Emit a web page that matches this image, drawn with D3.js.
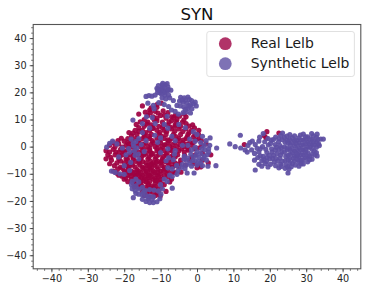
<!DOCTYPE html>
<html>
<head>
<meta charset="utf-8">
<script src="https://d3js.org/d3.v7.min.js"></script>
<style>
html, body { margin: 0; padding: 0; background: #fff; }
text { font-family: "DejaVu Sans", sans-serif; }
</style>
</head>
<body>
<div id="chart"></div>
<script>
var chartTitle = "SYN"
var seriesNames = ["Real Lelb", "Synthetic Lelb"]
var seriesColors = ["#9e0142", "#5e4fa2"]
var majorTicks = [-40, -30, -20, -10, 0, 10, 20, 30, 40]

// [x, y]
var realPoints = [
[-15,15],[-13,13.5],[-11.5,13],[-13.5,11.5],[-12,11],[-10,11.5],[-8.5,10.5],[-14.5,10],[-11,9.5],[-9.5,9],[-7,9.5],[-5.5,10],[-4,9],[-3,8.5],[-6,8],[-8,8],[-10.5,7.5],[-12.5,8],[-14.5,7.5],[-16,7],[-17,6],
[-15,6],[-13,6],[-11,6],[-9,6],[-7,6.5],[-5,6.5],[-3,6.5],[-1.5,6],[-2.5,4.5],[-4.5,4.5],[-6.5,4.5],[-8.5,4.5],[-10.5,4.5],[-12.5,4.5],[-14.5,4.5],[-16.5,4.5],[-18,4],[-19,3],[-17,3],[-15,3],[-13,3],[-11,3],[-9,3],[-7,3],[-5,3],[-3,3],[-1,3.5],[0.5,3],
[-20,2],[-18,2],[-16,1.5],[-14,1.5],[-12,1.5],[-10,1.5],[-8,1.5],[-6,1.5],[-4,1.5],[-2,1.5],[-23,1.5],[-21.5,1],[-24,0.5],[-19.5,0.5],[-17.5,0.5],[-15.5,0],[-13.5,0],[-11.5,0],[-9.5,0],[-7.5,0],[-5.5,0],[-3.5,0],[-1.5,0.5],
[-25,-1.5],[-23,-1],[-21,-1],[-19,-1],[-17,-1],[-15,-1.5],[-13,-1.5],[-11,-1.5],[-9,-1.5],[-7,-1.5],[-5,-1.5],[-24.5,-3],[-22.5,-3],[-20.5,-3],[-18.5,-3],[-16.5,-3],[-14.5,-3],[-12.5,-3],[-10.5,-3],[-8.5,-3],[-6.5,-3],
[-25,-4.5],[-23.5,-5],[-21.5,-4.5],[-19.5,-4.5],[-17.5,-4.5],[-15.5,-4.5],[-13.5,-4.5],[-11.5,-4.5],[-9.5,-4.5],[-7.5,-4.5],[-22,-6],[-20,-6],[-18,-6],[-16,-6],[-14,-6],[-12,-6],[-10,-6],[-8,-6],[-6,-6],
[-21,-7.5],[-19,-7.5],[-17,-7.5],[-15,-7.5],[-13,-7.5],[-11,-7.5],[-9,-7.5],[-7,-7.5],[-5,-7.5],[-23,-9],[-20,-9],[-18,-9],[-16,-9],[-14,-9],[-12,-9],[-10,-9],[-8,-9],[-21.5,-10.5],[-19,-10.5],[-17,-10.5],[-15,-10.5],[-13,-10.5],[-11,-10.5],[-9,-10.5],
[-20,-12],[-18,-12],[-16,-12],[-14,-12],[-12,-12],[-10,-12],[-17.5,-13.5],[-15.5,-13.5],[-13.5,-13.5],[-11.5,-13.5],[-16,-15],[-14,-15],[-12,-15],[-10,-15],[-15,-16.5],[-13,-16.5],[-11,-17],[-12,-18.5],[-14.5,-18],
[-14.5,-1],[-12.5,-6.5],[-16.5,-8.5],[-14.5,-11.5],[-11.5,-11.5],[-13,-8],[-15,-2.5],[-10,-1],[-8,2.5],[-12,7],[-9.5,7],[-6,7.5],[-13.5,9],[-11,10.5],[-7,11],[-4.5,7.5],[-17.5,-2],[-19,-5],[-17,-11],[-14,-13],[-12.5,-14.5],[-10.5,-13],
[-8,-11],[-6,-9.5],[-4.4,-9.4],[0.3,-7],[1,-7.5],[0,-7.8],[3.1,-6],[-2,-5],[-0.5,-3],[1.5,-2.5],[-3.5,-2],[-1.5,-4],[0.5,-0.5],[2.5,1],[-1,1.5],[-2.5,-0.8],[-6,-3.8],[-4.5,-5],[-3.2,-6.8],[-1,-6.2],[1.5,-5],[-16,12],[-8,12.5],[-11,14.5],
[-12.8,12.5],[-6,11.5],[-3,11],[-1.2,8],[0.5,6],[-3.5,12],[-9.8,16],[-11,15.5],[-7.5,-13],[-9,-14],[-8.5,-16.5],[-24,-2],[-22.5,0],[-20.5,-0.2],[-19,1.5],[-18.5,-7],[-20.5,-8],[-22,-9.8],
[18.5,4],[19.2,5.5],[22.5,5],[19,3.2],[13,0.8],[-2.4,-1.3],[3.8,-3],[-19.5,-11.5],[-7.3,7.2],[-5.2,2.2],[-12.7,-2.2],[-9.7,-5.3],[-10.7,-8.3],[-15.8,-5.3],[-13.2,3.8],[-10.2,2.4],[-15.2,1],[-17.6,-3.8],[-19.8,-1.8],[-21.4,-2.2],
// second pass over the dense middle
[-14.2,12.7],[-12.6,14.3],[-10.7,12.4],[-9.3,13.2],[-8.9,11.6],[-7.7,9.1],[-6.4,10.7],[-4.8,11.2],[-3.6,9.9],[-2.2,7.6],[-0.7,6.9],[-5.7,9.1],[-9.2,7.8],[-11.8,9.9],[-13.8,8.3],[-15.6,9.1],[-16.7,8.2],[-15.9,5.6],[-14,5.2],[-12.2,6.7],[-10.2,5.3],[-8.3,5.6],[-6.1,5.7],[-3.9,5.6],[-2.1,5.2],[-0.6,4.4],[0.4,4.6],
[-18.7,5.2],[-17.6,5],[-16.2,2.4],[-14.4,3.6],[-12.3,2.2],[-9.7,3.8],[-7.6,2.1],[-5.8,3.7],[-3.8,2.4],[-2.7,3.6],[-0.3,2.5],[1.2,2.2],[-20.8,3.1],[-21.7,2.2],[-18.7,0.9],[-16.7,0.6],[-14.7,0.7],[-12.7,0.8],[-10.7,0.8],[-8.7,0.6],[-6.7,0.8],[-4.7,0.7],[-2.9,0.9],[-0.6,-0.8],[1.3,0.3],
[-22.3,-1.9],[-20.2,-1.8],[-18.2,-0.2],[-16.2,-1.9],[-14,-2.4],[-12.1,-2.6],[-10.3,-2.1],[-8.2,-2.3],[-6.3,-0.7],[-4.2,-0.8],[-23.7,-3.9],[-21.2,-3.6],[-19.2,-3.8],[-17.3,-2.7],[-15.2,-3.7],[-13.2,-3.8],[-11.2,-3.7],[-9.2,-3.6],[-7.2,-3.7],[-5.3,-3],[-3.4,-3.2],
[-24,-6.3],[-22.7,-7],[-21,-5.3],[-18.9,-6.3],[-16.9,-5.4],[-14.9,-5.5],[-12.8,-5.3],[-10.8,-5.4],[-8.8,-5.5],[-6.8,-5.6],[-4.9,-6.3],[-21.8,-8.2],[-19.7,-7],[-17.7,-6.8],[-15.7,-6.8],[-13.7,-6.9],[-11.7,-6.8],[-9.7,-6.9],[-7.7,-6.8],[-5.8,-7],[-18.8,-8.4],[-16.8,-9.4],[-14.8,-8.3],[-12.8,-8.4],[-10.8,-9.6],[-8.8,-8.3],[-6.8,-9.6],
[-20.6,-10.9],[-18.3,-9.8],[-16.2,-9.9],[-14.1,-9.9],[-12.3,-10],[-10.1,-10.2],[-8.2,-9.9],[-19,-12.9],[-17.2,-12.4],[-15.3,-11.4],[-13.3,-11.4],[-11.4,-12.5],[-9.3,-11.8],[-16.8,-13.9],[-14.8,-12.6],[-13,-12.8],[-11,-12.4],[-9.8,-13.6],[-15.2,-14.4],[-13.3,-14.3],[-11.3,-14.6],[-14.8,-15.6],[-12.9,-15.4],[-11.2,-15.6],[-13.8,-16.9],[-12.2,-16.8],[-10.5,-16.2],[-11.4,-18],[-13.2,-18.6],[-10.1,-18.2],
[-17.2,-14.9],[-18.2,-10.8],[-7,-12],[-6.7,-7.4],[-7.3,-1],[-9,0.7],[-11,-0.7],[-13,-0.8],[-12.4,-7.6],[-14.4,-7.9],[-13.4,-10.5],[-15.5,-12.6],[-12.7,-11.2],[-10.5,-11],[-16,-10.8],[-11.6,-9.5],[-13.6,-9.4],[-13.2,-6.8],[-11.2,-5.8],[-15.4,-9.6],[-9.2,-8.8],[-17.7,-9.6],[-19.6,-9.5]
]

var synthPoints = [
// top clump
[-14,18.5],[-13.2,18.8],[-12.4,18.6],[-11.5,19],[-10.8,20],[-10.3,21],[-9.6,22.8],[-10.6,22.5],[-8.7,22.8],[-8,22],[-8.2,20.6],[-9.2,20.6],[-9.8,19.5],[-8.8,19],[-7.8,19],[-8.6,17.6],[-9.6,18],[-11,21.5],[-9.5,21.6],[-7.2,20.8],[-7.5,18],
[-6.5,17],[-5.5,15.2],[-7.8,14.8],[-7,13.5],[-6,13],[-12,15.2],[-13.5,16],[-10.5,16.2],[-11.8,14],[-9,15.5],[-10.2,19.9],[-9.1,21.9],[-8.9,20],[-10,21],[-7.9,21],[-8.2,23.2],[-9.4,23.3],[-10.8,21],
// upper right lobe
[-4.5,18.2],[-3.5,18],[-2.5,18.3],[-1.5,17],[-0.5,16.4],[-3.8,16.4],[-2.8,16],[-1.8,15.4],[-4.6,15],[-3.6,14.6],[-2.5,14],[-1.4,14],[-3,12.8],[-1.8,12.4],[-3.8,12.5],[-0.2,15],[-4.8,16.8],[-2.1,17.4],[-3.2,17.2],[-2.3,15],[-3.2,13.7],[-1,15.8],[-4.1,17.2],
// main body
[-17.6,9.8],[-15,8.5],[-11.5,8.5],[-9,8.2],[-5,8.2],[-3.2,7],[-1,5.5],[0,4.5],[1.5,3.8],[3.6,3.2],[2.5,2.2],[1,1.5],[-0.5,2],[-2,2.8],[-6,2.2],[-10,3.2],[-14,2.2],[-16,3],[-17.5,1.2],
[-13,6.8],[-8,6.8],[-15,5.2],[-16.5,-0.5],[-18.5,-2],[-20.5,-0.5],[-22,1],[-24,1.2],[-23.2,2],[-24.8,-0.2],[-21.5,-3.8],[-19.5,-3],[-17,-3.2],[-14.5,-1.8],[-10,-2.2],[-8,-0.8],[-6,-1.5],[-4,0.5],[-2.5,0.5],
[-16,-4.5],[-8.5,-5.2],[-6.5,-4.8],[-18.2,-5.8],[-20,-7],[-23.5,-9],[-22.5,-9.5],[-21.2,-10],[-20,-10.2],[-18.5,-8.8],[-16.8,-12],[-17.8,-12.8],[-18,-14],[-16.8,-14.4],[-16,-13],
[-8,-7.8],[-6.8,-8.2],[-5.2,-8.8],[-7.5,-10.5],[-9,-12],[-10,-14],[-8.2,-12.8],[-6.8,-11],[-5.5,-10.2],[-2.7,-9.7],[-0.8,-9.7],[-6.8,-15.3],[-9.9,-17.5],[-9.5,-15.6],
[-4,-6.5],[-3,-5],[-3.5,-3.5],[-1.5,-7.2],[-2,-6],[-0.5,-5.2],[-1,-3.8],[0.5,-4],[1,-2.5],[2,-3.5],[2.6,-5],[1,-6],[0,-6.8],[2.2,-1.2],[3.2,-2],[0,-1.8],[-1.5,-1.2],[3.5,0.5],[2,0.5],[5.4,-0.5],[5.2,-7],[-3.6,-4.6],[1.5,-7],[3,-7.2],[-0.5,-0.2],
[-2.6,-4.2],[-1.7,-2.8],[-0.2,-3.1],[1.7,-4.4],[0.4,-5.6],[-1.2,-5.1],[2.8,-3],[3.2,-0.8],[1.3,-0.7],[-2.9,-6.8],[-4.3,-7.6],[-3.3,-8.1],[-5.6,-6.9],
[-18.1,2.8],[-17.2,-1.6],[-16.1,-2.7],[-15.3,0.8],[-17.4,0.2],[-18.8,-0.7],[-16.8,1.9],[-10.8,1.6],[-11.6,4.2],[-6.9,3.8],[-6.2,-2.8],[-7.8,-4.1],
[-12.3,10.7],[-8.2,11.2],[-5.1,12],[-13.9,11],
// bottom clump
[-17.8,-15.5],[-17,-16.2],[-16,-15.6],[-15,-15],[-14.2,-16.2],[-13,-15.8],[-11.8,-16],[-10.6,-16.3],[-17.5,-18.8],[-16,-17.5],[-15,-17.8],[-14,-18],[-13,-18.2],[-12,-18.5],[-15,-19.4],[-14,-20.2],[-13,-20.6],[-12,-20.6],[-11,-20.3],[-10.2,-19.2],[-13.5,-19.2],[-12.3,-19.5],[-14.8,-16.8],[-16.8,-17.2],
// right cluster
[9,1],[10.5,0],[11.9,4.2],[12,-0.5],[13.2,-1.2],[14,0.4],[14.5,1.5],[15.2,2],[13.8,-2],[15,-1.2],[16,0.8],[17,2],[17.2,3.5],[18.2,4.8],[16.5,-0.6],[15.8,-2.5],[17,-2],[18,0],[18.6,1.8],[19.5,3],
[15.8,-5],[16,-8.6],[17,-6.5],[17.8,-5.2],[18.8,-6.2],[18.2,-3.6],[19.2,-2.2],[20,-4.5],[20.2,-6.5],[21.2,-5.6],[21,-3.2],[20.5,-0.8],[21.5,0.8],[20.5,2.4],[21.6,3.5],[22.4,1.8],[22.5,-1],[22,-2.6],[22.8,-4.2],[23,-6.5],
[23.5,5],[24,3.4],[24.2,1.6],[24,-0.2],[24,-2],[24.4,-3.6],[24.2,-5.2],[24.4,-6.8],[24.2,-8],[25,-9.7],[25.3,-8.2],[25.5,-6],[25.5,-4.4],[25.6,-2.8],[25.5,-1],[25.6,0.8],[25.4,2.6],[25.5,4.4],
[26.8,4],[26.8,2.2],[26.8,0.4],[26.8,-1.6],[26.8,-3.4],[26.8,-5.2],[27,-6.8],[28,-7.2],[28,-5.6],[28,-4],[28,-2.2],[28,-0.4],[28,1.4],[28,3.2],[29.2,4.6],[29.2,2.4],[29.2,0.6],[29.2,-1.2],[29.2,-3],[29.2,-4.8],[29.2,-6.4],
[30.4,-5.6],[30.4,-3.8],[30.4,-2.2],[30.4,-0.2],[30.4,1.6],[30.4,3.6],[31.5,4.8],[31.6,2.6],[31.6,0.8],[31.6,-1],[31.6,-2.8],[31.6,-4.6],[32.8,-2.2],[32.8,-0.2],[32.8,1.6],[32.8,3.4],[33,4.6],[34,2.8],[34.7,2.8],[33.6,0.4],[33,-3.4],
[17.8,-7.2],[19.5,-7.5],[21.6,-7],[22.5,-7.8],[19.2,-4],[20.6,-2],[23.2,-0.4],[23.4,2.6],[24.8,-1.2],[26.2,-2.2],[27.4,-1],[27.4,2.4],[28.6,-3],[28.6,-5],[29.8,-1],[29.8,1],[31,-3.6],[31,-0.2],[32.2,0.6],[32.2,-1.6],[22.8,0.4],[25,-5],[26.2,-6.2],[27.4,-3.4],[25,1.4],[26.2,3.2],[30,2.8],[23,-3],[21.5,-1.2],[17.4,-0.8],
[16.7,-4],[17.4,-3.4],[18.4,-4.8],[19.1,-5.4],[20.8,-4.3],[21.7,-4.4],[19.8,-3.2],[18.9,-1],[19.6,0.6],[20.2,1.2],[22.2,-5.3],[23.4,-5.4],[23.3,-2],[23.1,-7.3],[24.9,-7.4],[25.9,-7.4],[26.4,-4.3],[25,-3.2],[24.7,-0.4],[24.8,2.3],[24.7,3.9],[26.1,1.5],[26.1,-0.7],[27.3,0.9],[27.4,-2.6],[27.6,-4.8],[28.6,-6.3],[28.7,-1.2],[28.6,0.5],[28.7,2.4],[28.4,4.3],[29.8,3.6],[29.8,-2.2],[29.8,-4],[30.9,-4.8],[31,1.2],[31,3],[32,4],[32,2],[32.4,-3],[33.4,1],[33.2,2.6],[23,4.2],[22.5,3],[21,2.6],[21.8,-0.2]
]

var margin = { top: 24.5, right: 10.2, bottom: 22.2, left: 33.2 }
var width = 371
var height = 291
var innerW = width - margin.left - margin.right
var innerH = height - margin.top - margin.bottom

var x = d3.scaleLinear().domain([-45, 45]).range([margin.left, margin.left + innerW])
var y = d3.scaleLinear().domain([-45, 45]).range([margin.top + innerH, margin.top])

var svg = d3.select("#chart").append("svg")
    .attr("width", width)
    .attr("height", height)
    .style("display", "block")

function dots(points, color) {
    svg.append("g").selectAll("circle")
        .data(points)
        .enter()
        .append("circle")
        .attr("cx", d => x(d[0]))
        .attr("cy", d => y(d[1]))
        .attr("r", 2.6)
        .attr("fill", color)
        .attr("fill-opacity", 0.93)
}

dots(realPoints, seriesColors[0])
dots(synthPoints, seriesColors[1])

// minor ticks every 2, no labels on them
var minorTicks = d3.range(-44, 45, 2)

function drawAxis(axisFn, scale, translate) {
    var g = svg.append("g").attr("transform", translate)
    g.call(axisFn(scale).tickValues(minorTicks).tickSize(2).tickFormat(""))
    g.select(".domain").remove()
    g.selectAll("line").attr("stroke", "#333").attr("stroke-width", 0.7)

    var m = svg.append("g").attr("transform", translate)
    m.call(axisFn(scale).tickValues(majorTicks).tickSize(3.5).tickPadding(3))
    m.select(".domain").remove()
    m.selectAll("line").attr("stroke", "#333").attr("stroke-width", 0.8)
    m.selectAll("text").style("font-size", "9.7px").attr("fill", "#262626")
        .style("font-family", '"DejaVu Sans", sans-serif')
}

drawAxis(d3.axisBottom, x, `translate(0,${margin.top + innerH})`)
drawAxis(d3.axisLeft, y, `translate(${margin.left},0)`)

svg.append("rect")
    .attr("x", margin.left)
    .attr("y", margin.top)
    .attr("width", innerW)
    .attr("height", innerH)
    .attr("fill", "none")
    .attr("stroke", "#555")
    .attr("stroke-width", 1.1)

svg.append("text")
    .text(chartTitle)
    .attr("x", margin.left + innerW / 2)
    .attr("y", 19.5)
    .attr("text-anchor", "middle")
    .attr("fill", "#111")
    .style("font-size", "16.6px")

// legend
var legend = svg.append("g")
legend.append("rect")
    .attr("x", 206.8)
    .attr("y", 31.5)
    .attr("width", 147.6)
    .attr("height", 45)
    .attr("rx", 2.5)
    .attr("fill", "#fff")
    .attr("fill-opacity", 0.8)
    .attr("stroke", "#dcdcdc")
    .attr("stroke-width", 0.9)

legend.selectAll("circle")
    .data(seriesNames)
    .enter()
    .append("circle")
    .attr("cx", 225.3)
    .attr("cy", (d, i) => 43.7 + i * 20)
    .attr("r", 6.4)
    .attr("fill", (d, i) => seriesColors[i])
    .attr("fill-opacity", 0.8)

legend.selectAll("text")
    .data(seriesNames)
    .enter()
    .append("text")
    .text(d => d)
    .attr("x", 250.7)
    .attr("y", (d, i) => 48.3 + i * 20)
    .attr("fill", "#1a1a1a")
    .style("font-size", "13.9px")
</script>
</body>
</html>
